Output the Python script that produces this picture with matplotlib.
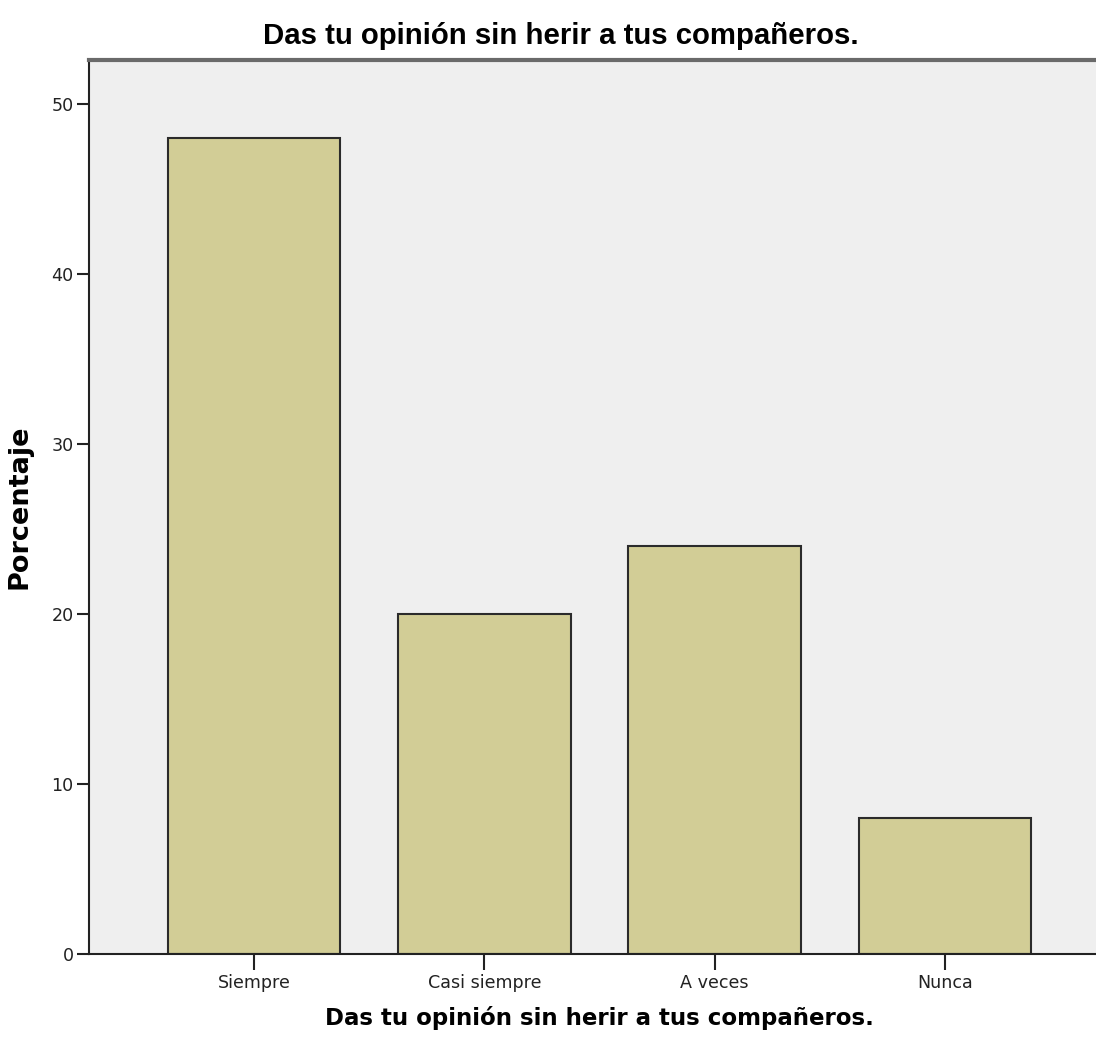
import matplotlib
matplotlib.use("Agg")
import matplotlib.pyplot as plt

categories = ["Siempre", "Casi siempre", "A veces", "Nunca"]
percentages = [48, 20, 24, 8]
y_ticks = [0, 10, 20, 30, 40, 50]
title = "Das tu opinión sin herir a tus compañeros."

narrow = ["Liberation Sans Narrow", "DejaVu Sans Condensed", "DejaVu Sans"]
arial = ["Liberation Sans", "DejaVu Sans"]

fig = plt.figure(figsize=(10.96, 10.54), dpi=100)
ax = fig.add_axes([0.0812, 0.0949, 0.9316, 0.8482])
ax.set_facecolor("#efefef")

x = range(len(categories))
ax.bar(x, percentages, width=0.75, color="#d2cd96", edgecolor="#2b2b2b", linewidth=1.5)

ax.set_xlim(-0.717, 3.717)
ax.set_ylim(0, 52.6)
ax.set_xticks(list(x))
ax.set_xticklabels(categories, fontfamily=narrow, fontsize=12.6)
ax.set_yticks(y_ticks)
ax.set_yticklabels([str(t) for t in y_ticks], fontfamily=narrow, fontsize=12.6)
ax.tick_params(axis="x", length=11.5, width=1.5, pad=3, colors="#222222")
ax.tick_params(axis="y", length=9, width=1.5, pad=2, colors="#222222")

for s in ["left", "bottom"]:
    ax.spines[s].set_linewidth(1.5)
    ax.spines[s].set_color("#222222")
ax.spines["top"].set_linewidth(3)
ax.spines["top"].set_color("#6a6a6a")
ax.spines["right"].set_visible(False)

ax.set_ylabel("Porcentaje", fontfamily=["DejaVu Sans"], fontsize=19.5, fontweight="bold", labelpad=14)
ax.set_xlabel(title, fontfamily=narrow, fontsize=16.5, fontweight="bold", labelpad=10)
fig.text(0.512, 0.966, title, ha="center", va="center", fontfamily=arial, fontsize=21.2,
         fontweight="bold")

fig.savefig("out.png", dpi=100)
